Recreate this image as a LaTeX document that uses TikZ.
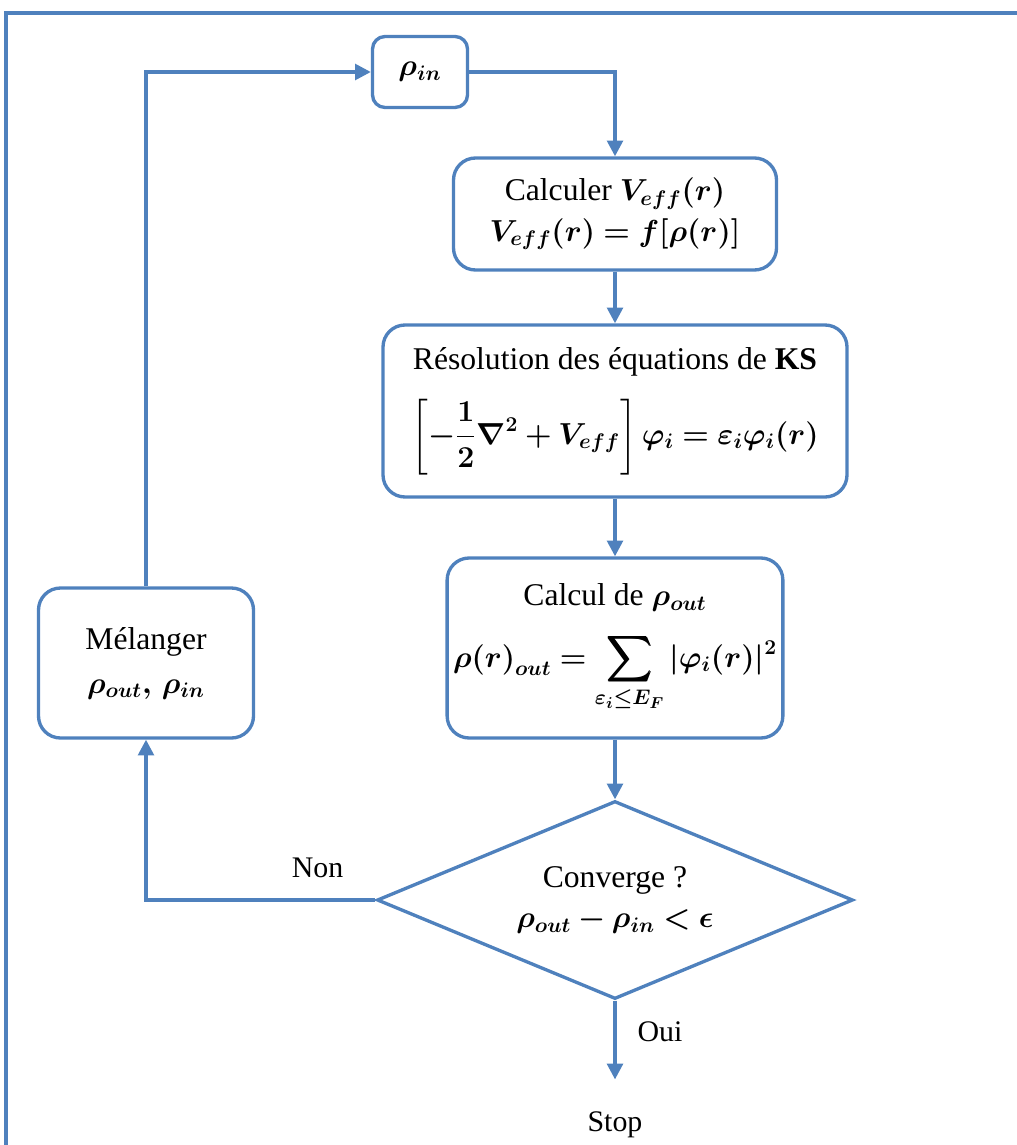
\documentclass[tikz,border=0pt]{standalone}
\usepackage{amsmath,amssymb,bm}
\usepackage{fontspec}
\setmainfont{Liberation Serif}
\usepackage{tikz}
\usepackage{xcolor}
\usetikzlibrary{arrows.meta,shapes,positioning}

\definecolor{flowblue}{RGB}{79,129,189}

\begin{document}
\begin{tikzpicture}[line width=1.9pt, >={Triangle[length=9pt,width=9pt]},
    box/.style={draw=flowblue, rounded corners=0.44cm, align=center, font=\fontsize{18}{23}\selectfont},
    test/.style={draw=flowblue, diamond, aspect=2.4, inner sep=0pt, align=center, font=\fontsize{18}{23}\selectfont},
    flow/.style={->, draw=flowblue},
    lbl/.style={font=\fontsize{17}{20}\selectfont}]
    \useasboundingbox (0,0) rectangle (20.32,-22.9);
    % Frame
    \draw[flowblue, line width=2.4pt] (0.12,-23.2) -- (0.12,-0.26) -- (20.6,-0.26);

    % Boxes
    \node[box, rounded corners=0.25cm, minimum width=1.9cm, minimum height=1.42cm] (rhoin) at (8.4,-1.44) {$\bm{\rho_{in}}$};
    \node[box, minimum width=6.46cm, minimum height=2.24cm] (veff) at (12.3,-4.28)
        {Calculer $\bm{V_{eff}(r)}$\\ $\bm{V_{eff}(r)=f[\rho(r)]}$};
    \node[box, minimum width=9.28cm, minimum height=3.44cm] (ks) at (12.3,-8.22)
        {Résolution des équations de \textbf{KS}\\[12pt] $\displaystyle\bm{\left[-\frac{1}{2}\nabla^2+V_{eff}\right]\varphi_i=\varepsilon_i\varphi_i(r)}$};
    \node[box, minimum width=6.4cm, minimum height=3.6cm] (rhoout) at (12.3,-12.96)
        {Calcul de $\bm{\rho_{out}}$\\[12pt] $\displaystyle\bm{\rho(r)_{out}=\sum_{\varepsilon_i\leq E_F}|\varphi_i(r)|^2}$};
    \node[box, minimum width=4.3cm, minimum height=3.0cm] (mix) at (2.92,-13.26)
        {Mélanger\\[2pt] $\bm{\rho_{out},\,\rho_{in}}$};
    \node[test, minimum width=9.52cm, minimum height=3.96cm] (conv) at (12.3,-18.0)
        {Converge ?\\ $\bm{\rho_{out}-\rho_{in}<\epsilon}$};
    \node[lbl] (stop) at (12.3,-22.5) {Stop};

    % Arrows
    \draw[flow] (mix.north) |- (rhoin.west);
    \draw[flow] (rhoin.east) -| (veff.north);
    \draw[flow] (veff) -- (ks);
    \draw[flow] (ks) -- (rhoout);
    \draw[flow] (rhoout) -- (conv);
    \draw[flow] (conv.west) -| node[lbl, above, pos=0.126, yshift=0.3cm] {Non} (mix.south);
    \draw[flow, shorten >=0.5cm] (conv.south) -- node[lbl, right, pos=0.3, xshift=0.3cm] {Oui} (stop.north);
\end{tikzpicture}
\end{document}
